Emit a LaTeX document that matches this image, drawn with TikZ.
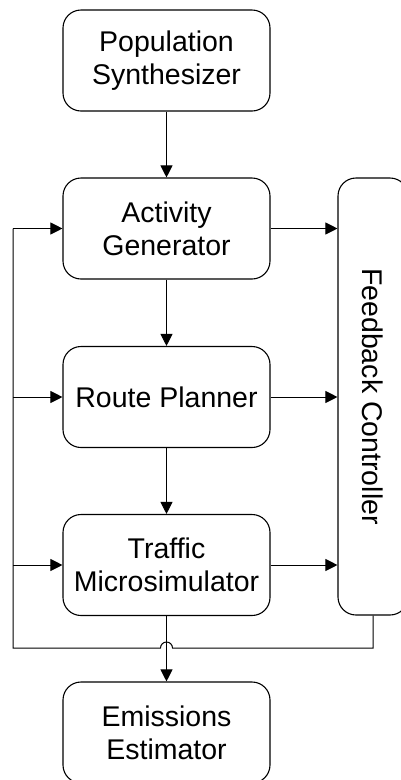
\documentclass[tikz,border=0pt]{standalone}
\usepackage{fontspec}
\setmainfont{Liberation Sans}
\usetikzlibrary{arrows.meta}
\begin{document}
\begin{tikzpicture}[x=1pt,y=-1pt,
  box/.style={draw, line width=1.1pt, rounded corners=18pt, minimum width=207pt, minimum height=101pt, inner sep=0pt, align=center, font=\fontsize{28.5}{33}\selectfont},
  fcbox/.style={draw, line width=1.1pt, rounded corners=18pt, minimum width=70pt, minimum height=437pt, inner sep=0pt},
  conn/.style={line width=1pt},
  arr/.style={conn, -{Triangle[length=12pt,width=12pt]}}
]
\useasboundingbox (0,0) rectangle (400,780);
\node[box] (pop) at (166.5,60.5) {Population\\Synthesizer};
\node[box] (act) at (166.5,228.5) {Activity\\Generator};
\node[box] (route) at (166.5,397) {Route Planner};
\node[box] (traf) at (166.5,565) {Traffic\\Microsimulator};
\node[box] (emis) at (166.5,732.5) {Emissions\\Estimator};
\node[fcbox] (fc) at (373,396.5) {};
\node[rotate=-90, font=\fontsize{28.5}{33}\selectfont, inner sep=0pt] (fclabel) at (fc.center) {Feedback Controller};

\draw[arr] (pop) -- (act);
\draw[arr] (act) -- (route);
\draw[arr] (route) -- (traf);
\draw[arr] (traf) -- (emis);

\draw[arr] (act.east) -- (act.east -| fc.west);
\draw[arr] (route.east) -- (route.east -| fc.west);
\draw[arr] (traf.east) -- (traf.east -| fc.west);

\coordinate (fbot) at (373,648);
\coordinate (hopR) at (172.5,648);
\coordinate (hopL) at (160.5,648);
\coordinate (lcorner) at (13,648);
\coordinate (ltop) at (13,228.5);
\draw[conn] (fc.south -| fbot) -- (fbot) -- (hopR) arc[start angle=0, end angle=180, radius=6pt] -- (lcorner) -- (ltop);
\draw[arr] (ltop) -- (act.west);
\draw[arr] (route.west -| ltop) -- (route.west);
\draw[arr] (traf.west -| ltop) -- (traf.west);
\end{tikzpicture}
\end{document}
